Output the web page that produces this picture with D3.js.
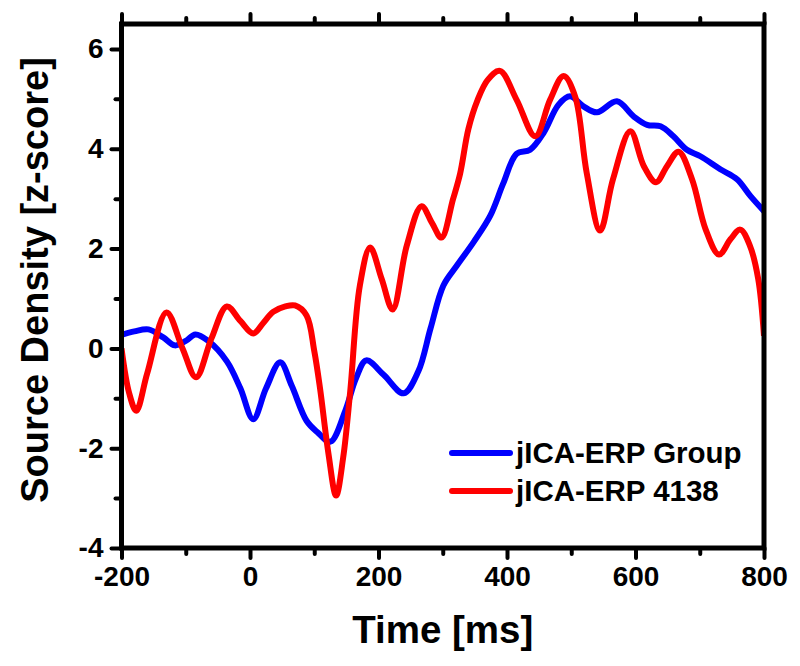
<!DOCTYPE html>
<html>
<head>
<meta charset="utf-8">
<script src="https://cdn.jsdelivr.net/npm/d3@7"></script>
<style>
  html, body { margin: 0; padding: 0; background: #fff; }
  svg { display: block; }
  text { font-family: "Liberation Sans", Arial, sans-serif; font-weight: bold; fill: #000; }
</style>
</head>
<body>
<svg id="chart" width="800" height="666"></svg>
<script>
// ---- data ----
const groupTime = [-200,-180,-158,-135,-117,-100,-85,-65,-36,-15,5,25,47,65,88,105,125,148,165,181,208,239,262,281,301,322,348,374,394,415,436,457,480,498,519,540,571,597,618,639,659,680,701,732,758,779,800];
const groupValues = [0.27,0.34,0.38,0.22,0.06,0.15,0.28,0.15,-0.26,-0.8,-1.42,-0.8,-0.28,-0.75,-1.45,-1.68,-1.87,-1.26,-0.6,-0.24,-0.53,-0.9,-0.46,0.4,1.26,1.66,2.13,2.66,3.3,3.9,3.98,4.32,4.88,5.05,4.85,4.73,4.95,4.65,4.48,4.45,4.25,3.98,3.85,3.59,3.39,3.05,2.75];

const subjTime = [-200,-188,-177,-160,-130,-105,-84,-60,-36,-15,5,20,36,55,70,88,100,109,122,134,145,156,171,187,205,222,244,267,283,298,316,327,340,354,370,389,415,444,467,488,506,524,545,565,592,613,632,649,667,688,709,730,748,763,778,791,800];
const subjValues = [0,-0.9,-1.25,-0.5,0.72,0.0,-0.58,0.2,0.84,0.55,0.3,0.5,0.73,0.84,0.86,0.66,-0.05,-0.8,-2.1,-2.95,-2.19,-0.86,1.26,2.02,1.39,0.78,2.06,2.85,2.52,2.22,2.99,3.5,4.4,4.97,5.38,5.56,4.98,4.25,4.98,5.46,5.05,3.52,2.36,3.39,4.35,3.65,3.33,3.65,3.94,3.39,2.39,1.88,2.19,2.38,2.06,1.39,0.25];

const seriesNames = ["jICA-ERP Group", "jICA-ERP 4138"];
const seriesColors = ["#0000ff", "#ff0000"];

const xMajorTicks = [-200, 0, 200, 400, 600, 800];
const xMinorTicks = [-100, 100, 300, 500, 700];
const yMajorTicks = [-4, -2, 0, 2, 4, 6];
const yMinorTicks = [-3, -1, 1, 3, 5];
const xDomain = [-200, 800];
const yDomain = [-4, 6.5];
const xTitle = "Time [ms]";
const yTitle = "Source Density [z-score]";

// ---- layout ----
const M = { left: 121.5, right: 764, top: 24, bottom: 548 };
const svg = d3.select("#chart");
const x = d3.scaleLinear().domain(xDomain).range([M.left, M.right]);
const y = d3.scaleLinear().domain(yDomain).range([M.bottom, M.top]);
const fmt = d => String(d);

function styleAxis(g) {
  g.select(".domain").remove();
  g.selectAll(".tick line").attr("stroke", "#000").attr("stroke-width", 4).attr("stroke-linecap", "round");
  g.selectAll(".tick text").attr("font-size", 28).attr("font-family", "Liberation Sans, Arial, sans-serif").attr("font-weight", "bold").attr("fill", "#000");
}

// minor ticks
svg.append("g").attr("transform", `translate(0,${M.bottom})`)
  .call(d3.axisBottom(x).tickValues(xMinorTicks).tickSize(6).tickFormat("")).call(styleAxis);
svg.append("g").attr("transform", `translate(0,${M.top})`)
  .call(d3.axisTop(x).tickValues(xMinorTicks).tickSize(6).tickFormat("")).call(styleAxis);
svg.append("g").attr("transform", `translate(${M.left},0)`)
  .call(d3.axisLeft(y).tickValues(yMinorTicks).tickSize(6).tickFormat("")).call(styleAxis);

// major ticks
svg.append("g").attr("transform", `translate(0,${M.bottom})`)
  .call(d3.axisBottom(x).tickValues(xMajorTicks).tickSize(10).tickPadding(8).tickFormat(fmt)).call(styleAxis);
svg.append("g").attr("transform", `translate(0,${M.top})`)
  .call(d3.axisTop(x).tickValues(xMajorTicks).tickSize(10).tickFormat("")).call(styleAxis);
svg.append("g").attr("transform", `translate(${M.left},0)`)
  .call(d3.axisLeft(y).tickValues(yMajorTicks).tickSize(10).tickPadding(8).tickFormat(fmt)).call(styleAxis);

// lines
const clipId = "plotclip";
svg.append("clipPath").attr("id", clipId).append("rect")
  .attr("x", M.left).attr("y", M.top).attr("width", M.right - M.left).attr("height", M.bottom - M.top);

const line = d3.line().x(d => x(d[0])).y(d => y(d[1])).curve(d3.curveCatmullRom.alpha(0.5));
const series = [
  d3.zip(groupTime, groupValues),
  d3.zip(subjTime, subjValues)
];
series.forEach((s, i) => {
  svg.append("path").datum(s)
    .attr("clip-path", `url(#${clipId})`)
    .attr("fill", "none").attr("stroke", seriesColors[i]).attr("stroke-width", 6)
    .attr("stroke-linejoin", "round").attr("d", line);
});

// frame
svg.append("rect").attr("x", M.left).attr("y", M.top)
  .attr("width", M.right - M.left).attr("height", M.bottom - M.top)
  .attr("fill", "none").attr("stroke", "#000").attr("stroke-width", 5);

// legend
const legend = svg.append("g");
seriesNames.forEach((name, i) => {
  const ly = 453 + i * 38;
  legend.append("line").attr("x1", 452).attr("x2", 510).attr("y1", ly).attr("y2", ly)
    .attr("stroke", seriesColors[i]).attr("stroke-width", 6).attr("stroke-linecap", "round");
  legend.append("text").attr("x", 516).attr("y", ly + 10).attr("font-size", 29.5).text(name);
});

// titles
svg.append("text").attr("x", (M.left + M.right) / 2).attr("y", 643)
  .attr("text-anchor", "middle").attr("font-size", 38.5).text(xTitle);
svg.append("text").attr("transform", `translate(48,${(M.top + M.bottom) / 2 - 6}) rotate(-90)`)
  .attr("text-anchor", "middle").attr("font-size", 38).text(yTitle);
</script>
</body>
</html>
